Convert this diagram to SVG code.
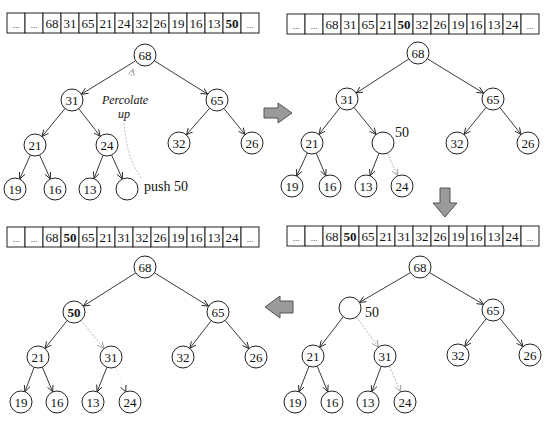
<svg xmlns="http://www.w3.org/2000/svg" width="555" height="430" viewBox="0 0 555 430">
<style>
.cell{fill:#fff;stroke:#222;stroke-width:1}
.ct{font-family:"Liberation Serif",serif;font-size:13px;text-anchor:middle;fill:#111}
.dots{font-family:"Liberation Serif",serif;font-size:9px;text-anchor:middle;fill:#111}
.b{font-weight:bold}
.node circle{fill:#fff;stroke:#222;stroke-width:1}
.nt{font-family:"Liberation Serif",serif;font-size:13px;text-anchor:middle;fill:#111}
.e{stroke:#222;stroke-width:0.9;fill:none;marker-end:url(#ah)}
.d{stroke:#aaa;stroke-width:0.9;fill:none;stroke-dasharray:2,1.5;marker-end:url(#ahg)}
.lbl{font-family:"Liberation Serif",serif;font-size:14px;fill:#111}
.it{font-family:"Liberation Serif",serif;font-size:12px;font-style:italic;fill:#111;text-anchor:middle}
.blk{fill:#9a9a9a;stroke:#555;stroke-width:1}
</style>
<defs>
<marker id="ah" viewBox="0 0 8 8" refX="7.5" refY="4" markerWidth="7" markerHeight="7" orient="auto" markerUnits="userSpaceOnUse">
<path d="M0,0.5 L7.5,4 L0,7.5" fill="none" stroke="#222" stroke-width="1"/>
</marker>
<marker id="ahg" viewBox="0 0 8 8" refX="7.5" refY="4" markerWidth="7" markerHeight="7" orient="auto" markerUnits="userSpaceOnUse">
<path d="M0,0.5 L7.5,4 L0,7.5" fill="none" stroke="#999" stroke-width="1"/>
</marker>
</defs>
<rect width="555" height="430" fill="#fff"/>

<!-- Arrays -->
<g id="array1">
<rect class="cell" x="7" y="13" width="18" height="20"/><rect class="cell" x="25" y="13" width="18" height="20"/><rect class="cell" x="43" y="13" width="18" height="20"/><rect class="cell" x="61" y="13" width="18" height="20"/><rect class="cell" x="79" y="13" width="18" height="20"/><rect class="cell" x="97" y="13" width="18" height="20"/><rect class="cell" x="115" y="13" width="18" height="20"/><rect class="cell" x="133" y="13" width="18" height="20"/><rect class="cell" x="151" y="13" width="18" height="20"/><rect class="cell" x="169" y="13" width="18" height="20"/><rect class="cell" x="187" y="13" width="18" height="20"/><rect class="cell" x="205" y="13" width="18" height="20"/><rect class="cell" x="223" y="13" width="18" height="20"/><rect class="cell" x="241" y="13" width="18" height="20"/>
<text class="dots" x="16" y="28">...</text><text class="dots" x="34" y="28">...</text><text class="ct" x="52" y="28">68</text><text class="ct" x="70" y="28">31</text><text class="ct" x="88" y="28">65</text><text class="ct" x="106" y="28">21</text><text class="ct" x="124" y="28">24</text><text class="ct" x="142" y="28">32</text><text class="ct" x="160" y="28">26</text><text class="ct" x="178" y="28">19</text><text class="ct" x="196" y="28">16</text><text class="ct" x="214" y="28">13</text><text class="ct b" x="232" y="28">50</text><text class="dots" x="250" y="28">...</text>
</g>
<g id="array2">
<rect class="cell" x="287" y="14" width="18" height="20"/><rect class="cell" x="305" y="14" width="18" height="20"/><rect class="cell" x="323" y="14" width="18" height="20"/><rect class="cell" x="341" y="14" width="18" height="20"/><rect class="cell" x="359" y="14" width="18" height="20"/><rect class="cell" x="377" y="14" width="18" height="20"/><rect class="cell" x="395" y="14" width="18" height="20"/><rect class="cell" x="413" y="14" width="18" height="20"/><rect class="cell" x="431" y="14" width="18" height="20"/><rect class="cell" x="449" y="14" width="18" height="20"/><rect class="cell" x="467" y="14" width="18" height="20"/><rect class="cell" x="485" y="14" width="18" height="20"/><rect class="cell" x="503" y="14" width="18" height="20"/><rect class="cell" x="521" y="14" width="18" height="20"/>
<text class="dots" x="296" y="29">...</text><text class="dots" x="314" y="29">...</text><text class="ct" x="332" y="29">68</text><text class="ct" x="350" y="29">31</text><text class="ct" x="368" y="29">65</text><text class="ct" x="386" y="29">21</text><text class="ct b" x="404" y="29">50</text><text class="ct" x="422" y="29">32</text><text class="ct" x="440" y="29">26</text><text class="ct" x="458" y="29">19</text><text class="ct" x="476" y="29">16</text><text class="ct" x="494" y="29">13</text><text class="ct" x="512" y="29">24</text><text class="dots" x="530" y="29">...</text>
</g>
<g id="array3">
<rect class="cell" x="7" y="227" width="18" height="20"/><rect class="cell" x="25" y="227" width="18" height="20"/><rect class="cell" x="43" y="227" width="18" height="20"/><rect class="cell" x="61" y="227" width="18" height="20"/><rect class="cell" x="79" y="227" width="18" height="20"/><rect class="cell" x="97" y="227" width="18" height="20"/><rect class="cell" x="115" y="227" width="18" height="20"/><rect class="cell" x="133" y="227" width="18" height="20"/><rect class="cell" x="151" y="227" width="18" height="20"/><rect class="cell" x="169" y="227" width="18" height="20"/><rect class="cell" x="187" y="227" width="18" height="20"/><rect class="cell" x="205" y="227" width="18" height="20"/><rect class="cell" x="223" y="227" width="18" height="20"/><rect class="cell" x="241" y="227" width="18" height="20"/>
<text class="dots" x="16" y="242">...</text><text class="dots" x="34" y="242">...</text><text class="ct" x="52" y="242">68</text><text class="ct b" x="70" y="242">50</text><text class="ct" x="88" y="242">65</text><text class="ct" x="106" y="242">21</text><text class="ct" x="124" y="242">31</text><text class="ct" x="142" y="242">32</text><text class="ct" x="160" y="242">26</text><text class="ct" x="178" y="242">19</text><text class="ct" x="196" y="242">16</text><text class="ct" x="214" y="242">13</text><text class="ct" x="232" y="242">24</text><text class="dots" x="250" y="242">...</text>
</g>
<g id="array4">
<rect class="cell" x="287" y="226" width="18" height="20"/><rect class="cell" x="305" y="226" width="18" height="20"/><rect class="cell" x="323" y="226" width="18" height="20"/><rect class="cell" x="341" y="226" width="18" height="20"/><rect class="cell" x="359" y="226" width="18" height="20"/><rect class="cell" x="377" y="226" width="18" height="20"/><rect class="cell" x="395" y="226" width="18" height="20"/><rect class="cell" x="413" y="226" width="18" height="20"/><rect class="cell" x="431" y="226" width="18" height="20"/><rect class="cell" x="449" y="226" width="18" height="20"/><rect class="cell" x="467" y="226" width="18" height="20"/><rect class="cell" x="485" y="226" width="18" height="20"/><rect class="cell" x="503" y="226" width="18" height="20"/><rect class="cell" x="521" y="226" width="18" height="20"/>
<text class="dots" x="296" y="241">...</text><text class="dots" x="314" y="241">...</text><text class="ct" x="332" y="241">68</text><text class="ct b" x="350" y="241">50</text><text class="ct" x="368" y="241">65</text><text class="ct" x="386" y="241">21</text><text class="ct" x="404" y="241">31</text><text class="ct" x="422" y="241">32</text><text class="ct" x="440" y="241">26</text><text class="ct" x="458" y="241">19</text><text class="ct" x="476" y="241">16</text><text class="ct" x="494" y="241">13</text><text class="ct" x="512" y="241">24</text><text class="dots" x="530" y="241">...</text>
</g>

<!-- Connectors -->
<g id="connectors">
<!-- panel 1 -->
<line class="e" x1="135.6" y1="60.8" x2="81.4" y2="94.2"/>
<line class="e" x1="154.3" y1="60.8" x2="207.7" y2="94.2"/>
<line class="e" x1="65" y1="108.5" x2="42" y2="136.5"/>
<line class="e" x1="78.8" y1="108.7" x2="100.2" y2="136.3"/>
<line class="e" x1="209.7" y1="108.2" x2="186.3" y2="134.8"/>
<line class="e" x1="224" y1="108.5" x2="245" y2="134.5"/>
<line class="e" x1="30.4" y1="155" x2="19.6" y2="179"/>
<line class="e" x1="39.6" y1="155" x2="50.4" y2="179"/>
<line class="e" x1="103" y1="155.3" x2="94" y2="178.7"/>
<line class="e" x1="111.6" y1="155" x2="122.4" y2="179"/>
<path d="M141,178 C133,165 126,152 124,122" stroke="#bbb" stroke-width="0.9" fill="none" stroke-dasharray="2,1.5"/>
<line class="d" x1="131" y1="76" x2="133" y2="69"/>
<!-- panel 2 -->
<line class="e" x1="408.8" y1="59" x2="356.2" y2="93"/>
<line class="e" x1="427.4" y1="58.8" x2="483.6" y2="93.2"/>
<line class="e" x1="340.1" y1="107.6" x2="318.9" y2="134.4"/>
<line class="e" x1="354" y1="107.5" x2="376" y2="134.5"/>
<line class="e" x1="486" y1="107.5" x2="464" y2="134.5"/>
<line class="e" x1="499.9" y1="107.6" x2="521.1" y2="134.4"/>
<line class="e" x1="307.4" y1="153" x2="296.6" y2="176"/>
<line class="e" x1="316.2" y1="153.1" x2="325.8" y2="175.9"/>
<line class="e" x1="379" y1="153.2" x2="370" y2="175.8"/>
<line class="d" x1="387.4" y1="153.1" x2="397.6" y2="175.9"/>
<!-- panel 3 -->
<line class="e" x1="135.7" y1="272.9" x2="83.3" y2="306.1"/>
<line class="e" x1="154.4" y1="272.8" x2="208.6" y2="306.2"/>
<line class="e" x1="67.1" y1="320.6" x2="44.9" y2="348.4"/>
<line class="d" x1="81" y1="320.5" x2="104" y2="348.5"/>
<line class="e" x1="211.2" y1="320.7" x2="189.8" y2="348.3"/>
<line class="e" x1="225.1" y1="320.4" x2="248.9" y2="348.6"/>
<line class="e" x1="34.1" y1="367.3" x2="24.9" y2="391.7"/>
<line class="e" x1="42.3" y1="367.1" x2="52.7" y2="391.9"/>
<line class="e" x1="106.9" y1="367.2" x2="97.1" y2="391.8"/>
<line x1="115.3" y1="367.1" x2="125.7" y2="391.9" stroke="#e4e4e4" stroke-width="0.8" stroke-dasharray="2,1.5" marker-end="url(#ah)"/>
<!-- panel 4 -->
<line class="e" x1="410.5" y1="272.6" x2="359.5" y2="302.4"/>
<line class="e" x1="429.5" y1="272.6" x2="483.5" y2="304.4"/>
<line class="e" x1="343.3" y1="316.7" x2="319.7" y2="347.3"/>
<line class="d" x1="356.5" y1="316.9" x2="378.5" y2="347.1"/>
<line class="e" x1="486.2" y1="318.7" x2="464.8" y2="346.3"/>
<line class="e" x1="500" y1="318.5" x2="523" y2="346.5"/>
<line class="e" x1="309" y1="366.2" x2="299" y2="391.8"/>
<line class="e" x1="317.2" y1="366.2" x2="327.8" y2="391.8"/>
<line class="e" x1="381.2" y1="366.3" x2="371.8" y2="391.7"/>
<line class="d" x1="389.4" y1="366.1" x2="400.6" y2="391.9"/>
</g>

<!-- Panel 1 nodes -->
<g id="p1-68" class="node"><circle cx="145" cy="55" r="11"/><text class="nt" x="145" y="59.5">68</text></g>
<g id="p1-31" class="node"><circle cx="72" cy="100" r="11"/><text class="nt" x="72" y="104.5">31</text></g>
<g id="p1-65" class="node"><circle cx="217" cy="100" r="11"/><text class="nt" x="217" y="104.5">65</text></g>
<g id="p1-21" class="node"><circle cx="35" cy="145" r="11"/><text class="nt" x="35" y="149.5">21</text></g>
<g id="p1-24" class="node"><circle cx="107" cy="145" r="11"/><text class="nt" x="107" y="149.5">24</text></g>
<g id="p1-32" class="node"><circle cx="179" cy="143" r="11"/><text class="nt" x="179" y="147.5">32</text></g>
<g id="p1-26" class="node"><circle cx="252" cy="143" r="11"/><text class="nt" x="252" y="147.5">26</text></g>
<g id="p1-19" class="node"><circle cx="15" cy="189" r="11"/><text class="nt" x="15" y="193.5">19</text></g>
<g id="p1-16" class="node"><circle cx="55" cy="189" r="11"/><text class="nt" x="55" y="193.5">16</text></g>
<g id="p1-13" class="node"><circle cx="90" cy="189" r="11"/><text class="nt" x="90" y="193.5">13</text></g>
<g id="p1-new" class="node"><circle cx="127" cy="189" r="11"/></g>
<text class="lbl" x="144" y="191">push 50</text>
<text class="it" x="125" y="104">Percolate</text>
<text class="it" x="124" y="118">up</text>

<!-- Panel 2 nodes -->
<g id="p2-68" class="node"><circle cx="418" cy="53" r="11"/><text class="nt" x="418" y="57.5">68</text></g>
<g id="p2-31" class="node"><circle cx="347" cy="99" r="11"/><text class="nt" x="347" y="103.5">31</text></g>
<g id="p2-65" class="node"><circle cx="493" cy="99" r="11"/><text class="nt" x="493" y="103.5">65</text></g>
<g id="p2-21" class="node"><circle cx="312" cy="143" r="11"/><text class="nt" x="312" y="147.5">21</text></g>
<g id="p2-hole" class="node"><circle cx="383" cy="143" r="11"/><text class="lbl" x="395" y="137">50</text></g>
<g id="p2-32" class="node"><circle cx="457" cy="143" r="11"/><text class="nt" x="457" y="147.5">32</text></g>
<g id="p2-26" class="node"><circle cx="528" cy="143" r="11"/><text class="nt" x="528" y="147.5">26</text></g>
<g id="p2-19" class="node"><circle cx="292" cy="186" r="11"/><text class="nt" x="292" y="190.5">19</text></g>
<g id="p2-16" class="node"><circle cx="330" cy="186" r="11"/><text class="nt" x="330" y="190.5">16</text></g>
<g id="p2-13" class="node"><circle cx="366" cy="186" r="11"/><text class="nt" x="366" y="190.5">13</text></g>
<g id="p2-24" class="node"><circle cx="402" cy="186" r="11"/><text class="nt" x="402" y="190.5">24</text></g>

<!-- Panel 3 nodes -->
<g id="p3-68" class="node"><circle cx="145" cy="267" r="11"/><text class="nt" x="145" y="271.5">68</text></g>
<g id="p3-50" class="node"><circle cx="74" cy="312" r="11"/><text class="nt b" x="74" y="316.5">50</text></g>
<g id="p3-65" class="node"><circle cx="218" cy="312" r="11"/><text class="nt" x="218" y="316.5">65</text></g>
<g id="p3-21" class="node"><circle cx="38" cy="357" r="11"/><text class="nt" x="38" y="361.5">21</text></g>
<g id="p3-31" class="node"><circle cx="111" cy="357" r="11"/><text class="nt" x="111" y="361.5">31</text></g>
<g id="p3-32" class="node"><circle cx="183" cy="357" r="11"/><text class="nt" x="183" y="361.5">32</text></g>
<g id="p3-26" class="node"><circle cx="256" cy="357" r="11"/><text class="nt" x="256" y="361.5">26</text></g>
<g id="p3-19" class="node"><circle cx="21" cy="402" r="11"/><text class="nt" x="21" y="406.5">19</text></g>
<g id="p3-16" class="node"><circle cx="57" cy="402" r="11"/><text class="nt" x="57" y="406.5">16</text></g>
<g id="p3-13" class="node"><circle cx="93" cy="402" r="11"/><text class="nt" x="93" y="406.5">13</text></g>
<g id="p3-24" class="node"><circle cx="130" cy="402" r="11"/><text class="nt" x="130" y="406.5">24</text></g>

<!-- Panel 4 nodes -->
<g id="p4-68" class="node"><circle cx="420" cy="267" r="11"/><text class="nt" x="420" y="271.5">68</text></g>
<g id="p4-hole" class="node"><circle cx="350" cy="308" r="11"/><text class="lbl" x="365" y="317">50</text></g>
<g id="p4-65" class="node"><circle cx="493" cy="310" r="11"/><text class="nt" x="493" y="314.5">65</text></g>
<g id="p4-21" class="node"><circle cx="313" cy="356" r="11"/><text class="nt" x="313" y="360.5">21</text></g>
<g id="p4-31" class="node"><circle cx="385" cy="356" r="11"/><text class="nt" x="385" y="360.5">31</text></g>
<g id="p4-32" class="node"><circle cx="458" cy="355" r="11"/><text class="nt" x="458" y="359.5">32</text></g>
<g id="p4-26" class="node"><circle cx="530" cy="355" r="11"/><text class="nt" x="530" y="359.5">26</text></g>
<g id="p4-19" class="node"><circle cx="295" cy="402" r="11"/><text class="nt" x="295" y="406.5">19</text></g>
<g id="p4-16" class="node"><circle cx="332" cy="402" r="11"/><text class="nt" x="332" y="406.5">16</text></g>
<g id="p4-13" class="node"><circle cx="368" cy="402" r="11"/><text class="nt" x="368" y="406.5">13</text></g>
<g id="p4-24" class="node"><circle cx="405" cy="402" r="11"/><text class="nt" x="405" y="406.5">24</text></g>

<!-- Block arrows -->
<g id="arrow-right"><path class="blk" d="M264,108 L278,108 L278,103 L292,113 L278,123 L278,118 L264,118 Z"/></g>
<g id="arrow-down"><path class="blk" d="M440,188 L450,188 L450,203 L457,203 L445,217 L433,203 L440,203 Z"/></g>
<g id="arrow-left"><path class="blk" d="M293,301 L280,301 L280,296 L265,307 L280,318 L280,313 L293,313 Z"/></g>
</svg>
